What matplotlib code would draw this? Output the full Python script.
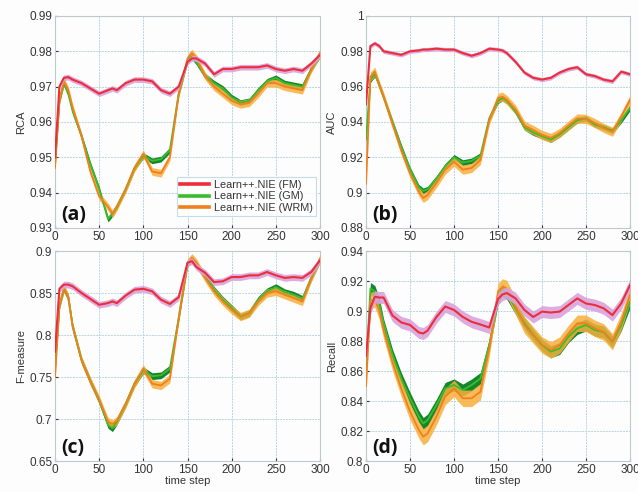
import matplotlib
matplotlib.use("Agg")
import matplotlib.pyplot as plt
from matplotlib.ticker import FormatStrFormatter

plt.rcParams['font.family'] = ['Liberation Sans', 'DejaVu Sans']

t = [0, 5, 10, 15, 20, 30, 40, 50, 60, 65, 70, 80, 90, 100, 110, 120, 130, 140,
     150, 155, 160, 170, 180, 190, 200, 210, 220, 230, 240, 250, 260, 270, 280, 290, 300]

# (a) RCA
rca_fm = [0.950, 0.970, 0.9725, 0.9727, 0.972, 0.971, 0.9695, 0.968, 0.969, 0.9695, 0.969,
          0.971, 0.972, 0.972, 0.9715, 0.969, 0.968, 0.970, 0.977, 0.978, 0.978, 0.9765,
          0.9735, 0.975, 0.975, 0.9755, 0.9755, 0.9755, 0.976, 0.975, 0.9745, 0.975,
          0.9745, 0.9765, 0.979]
rca_gm = [0.948, 0.966, 0.971, 0.968, 0.963, 0.956, 0.948, 0.941, 0.9325, 0.934, 0.936,
          0.941, 0.947, 0.9505, 0.949, 0.9495, 0.952, 0.968, 0.9775, 0.9785, 0.977, 0.973,
          0.971, 0.9695, 0.967, 0.9655, 0.966, 0.969, 0.9715, 0.9725, 0.971, 0.9705,
          0.970, 0.975, 0.979]
rca_wrm = [0.947, 0.966, 0.9715, 0.969, 0.964, 0.956, 0.946, 0.939, 0.936, 0.934, 0.936,
           0.941, 0.947, 0.951, 0.946, 0.9455, 0.950, 0.968, 0.978, 0.9795, 0.978, 0.973,
           0.970, 0.968, 0.966, 0.965, 0.9655, 0.968, 0.971, 0.971, 0.970, 0.9695,
           0.969, 0.975, 0.9795]

# (b) AUC
auc_fm = [0.950, 0.983, 0.9845, 0.983, 0.980, 0.979, 0.978, 0.980, 0.9805, 0.981, 0.981,
          0.9815, 0.981, 0.981, 0.979, 0.9775, 0.979, 0.9815, 0.981, 0.9805, 0.979, 0.974,
          0.968, 0.965, 0.964, 0.965, 0.968, 0.970, 0.971, 0.967, 0.966, 0.964,
          0.963, 0.9685, 0.967]
auc_gm = [0.930, 0.964, 0.967, 0.961, 0.954, 0.940, 0.926, 0.913, 0.903, 0.901, 0.902,
          0.908, 0.915, 0.920, 0.917, 0.918, 0.921, 0.942, 0.952, 0.9535, 0.952, 0.946,
          0.937, 0.934, 0.932, 0.930, 0.933, 0.937, 0.941, 0.942, 0.9385, 0.937,
          0.935, 0.941, 0.948]
auc_wrm = [0.905, 0.9657, 0.9685, 0.961, 0.9543, 0.939, 0.924, 0.911, 0.9006, 0.897, 0.8987,
           0.9055, 0.913, 0.9175, 0.913, 0.914, 0.9185, 0.941, 0.9536, 0.9543, 0.9525, 0.947,
           0.938, 0.9355, 0.9327, 0.931, 0.9338, 0.938, 0.942, 0.9417, 0.9394, 0.9366,
           0.9345, 0.943, 0.9525]

# (c) F-measure
f_fm = [0.780, 0.855, 0.860, 0.860, 0.858, 0.850, 0.843, 0.836, 0.838, 0.840, 0.838,
        0.847, 0.854, 0.855, 0.852, 0.842, 0.837, 0.845, 0.886, 0.888, 0.881, 0.874,
        0.863, 0.864, 0.869, 0.869, 0.871, 0.871, 0.875, 0.871, 0.868, 0.869,
        0.868, 0.875, 0.889]
f_gm = [0.760, 0.835, 0.855, 0.845, 0.810, 0.770, 0.745, 0.722, 0.693, 0.689, 0.697,
        0.718, 0.742, 0.758, 0.751, 0.752, 0.760, 0.820, 0.885, 0.890, 0.884, 0.870,
        0.854, 0.842, 0.832, 0.822, 0.826, 0.842, 0.852, 0.857, 0.851, 0.848,
        0.843, 0.868, 0.890]
f_wrm = [0.750, 0.835, 0.856, 0.845, 0.810, 0.770, 0.745, 0.723, 0.697, 0.694, 0.698,
         0.718, 0.742, 0.760, 0.742, 0.740, 0.748, 0.820, 0.886, 0.892, 0.886, 0.868,
         0.852, 0.840, 0.830, 0.822, 0.826, 0.840, 0.850, 0.852, 0.848, 0.844,
         0.840, 0.868, 0.891]

# (d) Recall
rec_fm = [0.870, 0.902, 0.9095, 0.909, 0.909, 0.897, 0.8924, 0.8907, 0.8857, 0.885, 0.887,
          0.896, 0.903, 0.9007, 0.896, 0.8928, 0.891, 0.889, 0.908, 0.911, 0.912, 0.9084,
          0.9007, 0.896, 0.8996, 0.899, 0.8996, 0.904, 0.9084, 0.905, 0.904, 0.9018,
          0.8973, 0.9051, 0.9173]
rec_gm = [0.860, 0.915, 0.913, 0.905, 0.8907, 0.8707, 0.855, 0.8418, 0.8296, 0.825, 0.8273,
          0.8373, 0.8484, 0.8507, 0.8473, 0.8507, 0.855, 0.8773, 0.9084, 0.914, 0.9118, 0.9018,
          0.8918, 0.884, 0.8773, 0.8729, 0.875, 0.8829, 0.8884, 0.8907, 0.8873, 0.886,
          0.8795, 0.8907, 0.906]
rec_wrm = [0.850, 0.907, 0.908, 0.900, 0.887, 0.866, 0.8484, 0.833, 0.8207, 0.8162, 0.8184,
           0.8296, 0.843, 0.8484, 0.8418, 0.8418, 0.8462, 0.875, 0.9129, 0.916, 0.915, 0.9029,
           0.8907, 0.884, 0.8773, 0.874, 0.8773, 0.885, 0.8918, 0.8918, 0.8884, 0.886,
           0.8795, 0.8929, 0.9107]

# spread (half width of the shaded band) for FM, GM, WRM
rca_spread = [0.0008, 0.0008, 0.0011]
auc_spread = [0.0012, 0.0016, 0.0026]
f_spread = [0.004, 0.004, 0.005]
rec_spread = [0.004, 0.004, 0.0055]

labels = ['Learn++.NIE (FM)', 'Learn++.NIE (GM)', 'Learn++.NIE (WRM)']

panels = [
    ('(a)', 'RCA', [rca_fm, rca_gm, rca_wrm], rca_spread, (0.93, 0.99), 0.01),
    ('(b)', 'AUC', [auc_fm, auc_gm, auc_wrm], auc_spread, (0.88, 1.0), 0.02),
    ('(c)', 'F-measure', [f_fm, f_gm, f_wrm], f_spread, (0.65, 0.9), 0.05),
    ('(d)', 'Recall', [rec_fm, rec_gm, rec_wrm], rec_spread, (0.8, 0.94), 0.02),
]

line_cols = ['#ec2d3a', '#3cbc2c', '#f0801e']
band_cols = ['#d9a3dc', '#12872d', '#f9b03c']

rects = [[0.0862, 0.5366, 0.4154, 0.4309], [0.5737, 0.5366, 0.4138, 0.4309],
         [0.0862, 0.063, 0.4154, 0.4268], [0.5737, 0.063, 0.4138, 0.4268]]

fig = plt.figure(figsize=(6.38, 4.92), dpi=100)
fig.patch.set_facecolor('#fdfdfd')

for i, (tag, name, series, spread, ylim, step) in enumerate(panels):
    ax = fig.add_axes(rects[i])
    ax.set_facecolor('#fdfdfd')
    fm, gm, wrm = series
    # bands first, then mean lines
    ax.fill_between(t, [v - spread[1] for v in gm], [v + spread[1] for v in gm],
                    color=band_cols[1], lw=0, zorder=2)
    ax.fill_between(t, [v - spread[2] for v in wrm], [v + spread[2] for v in wrm],
                    color=band_cols[2], alpha=0.85, lw=0, zorder=3)
    ax.plot(t, gm, color=line_cols[1], lw=1.3, zorder=4)
    ax.plot(t, wrm, color=line_cols[2], lw=1.3, zorder=4)
    ax.fill_between(t, [v - spread[0] for v in fm], [v + spread[0] for v in fm],
                    color=band_cols[0], alpha=0.9, lw=0, zorder=5)
    ax.plot(t, fm, color=line_cols[0], lw=1.5, zorder=6)

    ax.set_xlim(0, 300)
    ax.set_ylim(*ylim)
    n = int(round((ylim[1] - ylim[0]) / step))
    ax.set_yticks([ylim[0] + k * step for k in range(n + 1)])
    ax.set_xticks(range(0, 301, 50))
    ax.yaxis.set_major_formatter(FormatStrFormatter('%g'))
    ax.grid(True, color='#b7d5e3', lw=0.7, ls=(0, (2, 1)))
    ax.set_axisbelow(True)
    ax.tick_params(direction='in', length=2, labelsize=8.5, colors='#333333', pad=2)
    for sp in ax.spines.values():
        sp.set_color('#bfc8cc')
        sp.set_linewidth(0.8)
    ax.set_ylabel(name, fontsize=8, color='#333333', labelpad=2)
    if i >= 2:
        ax.set_xlabel('time step', fontsize=8, color='#333333', labelpad=0)
    ax.text(0.025, 0.04, tag, transform=ax.transAxes, fontsize=14,
            fontweight='bold', family=['Open Sans', 'DejaVu Sans'], color='#111111',
            zorder=10)

    if i == 0:
        hs = [plt.Line2D([], [], color=c, lw=2.6) for c in line_cols]
        leg = ax.legend(hs, labels, loc='lower right', bbox_to_anchor=(0.985, 0.055),
                        fontsize=7.8, frameon=True, fancybox=False, handlelength=2.6,
                        borderpad=0.3, labelspacing=0.15, handletextpad=0.5,
                        borderaxespad=0.0)
        leg.get_frame().set_edgecolor('#b7d5e3')
        leg.get_frame().set_linewidth(0.8)
        leg.set_zorder(9)
        for txt in leg.get_texts():
            txt.set_color('#333333')

plt.savefig('out.png', dpi=100)
